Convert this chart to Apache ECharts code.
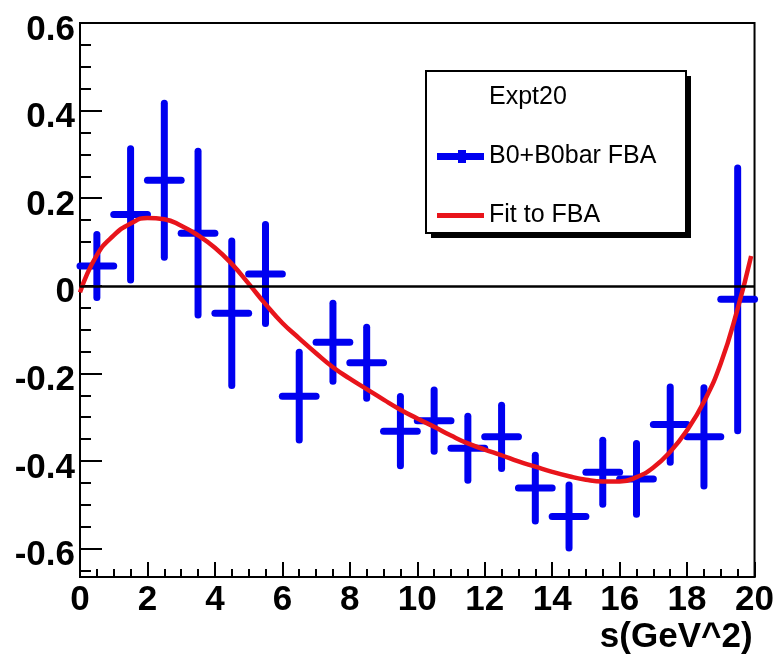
<!DOCTYPE html>
<html>
<head>
<meta charset="utf-8">
<script src="https://cdn.jsdelivr.net/npm/echarts@6/dist/echarts.min.js"></script>
<style>
  html, body { margin: 0; padding: 0; background: #fff; }
  #chart { width: 777px; height: 661px; }
</style>
</head>
<body>
<div id="chart"></div>
<script>
// bin centres, measured asymmetry and its error
const binCentres = [0.5, 1.5, 2.5, 3.5, 4.5, 5.5, 6.5, 7.5, 8.5, 9.5, 10.5, 11.5, 12.5, 13.5, 14.5, 15.5, 16.5, 17.5, 18.5, 19.5];
const fbaValues = [0.045, 0.163, 0.241, 0.120, -0.063, 0.027, -0.252, -0.129, -0.176, -0.332, -0.308, -0.371, -0.345, -0.462, -0.527, -0.426, -0.441, -0.317, -0.345, -0.031];
const fbaErrors = [0.072, 0.150, 0.176, 0.187, 0.165, 0.113, 0.100, 0.089, 0.081, 0.079, 0.070, 0.073, 0.072, 0.075, 0.072, 0.073, 0.081, 0.086, 0.112, 0.300];

// fit curve
const fitS = [0, 0.5, 1, 1.5, 2, 2.5, 3, 3.5, 4, 4.5, 5, 5.5, 6, 6.5, 7, 7.5, 8, 8.5, 9, 9.5, 10, 10.5, 11, 11.5, 12, 12.5, 13, 13.5, 14, 14.5, 15, 15.5, 16, 16.5, 17, 17.5, 18, 18.5, 19, 19.5, 19.9];
const fitValues = [-0.015, 0.070, 0.115, 0.142, 0.155, 0.152, 0.137, 0.115, 0.087, 0.050, 0.005, -0.042, -0.085, -0.120, -0.154, -0.186, -0.212, -0.236, -0.260, -0.283, -0.303, -0.322, -0.342, -0.360, -0.374, -0.387, -0.401, -0.413, -0.425, -0.435, -0.443, -0.447, -0.447, -0.437, -0.415, -0.379, -0.330, -0.265, -0.177, -0.052, 0.068];

const legendNames = ['Expt20', 'B0+B0bar FBA', 'Fit to FBA'];
const xTitle = 's(GeV^2)';

const BLUE = '#0000f0';
const RED = '#e8141b';
const axisFont = 'Liberation Sans';

const chart = echarts.init(document.getElementById('chart'));

const renderErrorBar = (params, api) => {
  const x = api.value(0), y = api.value(1), e = api.value(2);
  const top = api.coord([x, y + e]);
  const bot = api.coord([x, y - e]);
  const left = api.coord([x - 0.5, y]);
  const right = api.coord([x + 0.5, y]);
  const style = { stroke: BLUE, lineWidth: 7, lineCap: 'round' };
  return {
    type: 'group',
    children: [
      { type: 'line', shape: { x1: top[0], y1: top[1], x2: bot[0], y2: bot[1] }, style: style },
      { type: 'line', shape: { x1: left[0], y1: left[1], x2: right[0], y2: right[1] }, style: style }
    ]
  };
};

chart.setOption({
  backgroundColor: '#fff',
  animation: false,
  grid: { left: 80, right: 22, top: 23, bottom: 84, show: true, borderColor: '#000', borderWidth: 2 },
  graphic: [
    { type: 'rect', shape: { x: 431, y: 76, width: 260, height: 162 }, style: { fill: '#000' }, z: 5 },
    { type: 'rect', shape: { x: 426, y: 71, width: 260, height: 162 }, style: { fill: '#fff', stroke: '#000', lineWidth: 2 }, z: 6 }
  ],
  legend: {
    orient: 'vertical',
    left: 437,
    top: 85,
    padding: 0,
    itemWidth: 47,
    itemHeight: 13,
    itemGap: 34,
    z: 10,
    selectedMode: false,
    textStyle: { fontFamily: 'Liberation Sans', fontSize: 25, lineHeight: 24, color: '#000' },
    data: [
      { name: legendNames[0], icon: 'none' },
      { name: legendNames[1], icon: 'path://M0,3H21V0H29V3H47V10H29V13H21V10H0Z', itemStyle: { color: BLUE } },
      { name: legendNames[2], icon: 'path://M0,0H47V0.01H0ZM0,4H47V9H0ZM0,12.99H47V13H0Z', itemStyle: { color: RED } }
    ]
  },
  xAxis: {
    type: 'value',
    min: 0,
    max: 20,
    interval: 2,
    name: xTitle,
    nameLocation: 'end',
    nameGap: -2,
    nameTextStyle: { fontFamily: axisFont, fontWeight: 'bold', fontSize: 35, color: '#000', align: 'right', verticalAlign: 'top', padding: [43, 0, 0, 0] },
    axisLine: { onZero: false, lineStyle: { color: '#000', width: 2 } },
    axisTick: { inside: true, length: 15, lineStyle: { color: '#000', width: 2 } },
    minorTick: { show: true, splitNumber: 4, length: 8, lineStyle: { color: '#000', width: 2 } },
    axisLabel: { fontFamily: axisFont, fontWeight: 'bold', fontSize: 35, color: '#000', margin: 6 },
    splitLine: { show: false }
  },
  yAxis: {
    type: 'value',
    min: -0.665,
    max: 0.6,
    splitNumber: 6,
    minInterval: 0.2,
    maxInterval: 0.2,
    axisLine: { lineStyle: { color: '#000', width: 2 } },
    axisTick: { inside: true, length: 22, lineStyle: { color: '#000', width: 2 } },
    minorTick: { show: true, splitNumber: 4, length: 11, lineStyle: { color: '#000', width: 2 } },
    axisLabel: { fontFamily: axisFont, fontWeight: 'bold', fontSize: 35, color: '#000', margin: 5, showMinLabel: false, verticalAlign: 'top', lineHeight: 14 },
    splitLine: { show: false }
  },
  series: [
    { name: legendNames[0], type: 'line', data: [], symbol: 'none' },
    {
      name: legendNames[1],
      type: 'custom',
      renderItem: renderErrorBar,
      itemStyle: { color: BLUE },
      encode: { x: 0, y: 1 },
      data: binCentres.map((s, i) => [s, fbaValues[i], fbaErrors[i]]),
      z: 3
    },
    {
      name: legendNames[2],
      type: 'line',
      smooth: true,
      symbol: 'none',
      lineStyle: { color: RED, width: 4.5 },
      itemStyle: { color: RED },
      data: fitS.map((s, i) => [s, fitValues[i]]),
      z: 4,
      markLine: {
        silent: true,
        symbol: 'none',
        label: { show: false },
        lineStyle: { color: '#000', width: 2.5, type: 'solid' },
        data: [{ yAxis: 0 }]
      }
    }
  ]
});
</script>
</body>
</html>
